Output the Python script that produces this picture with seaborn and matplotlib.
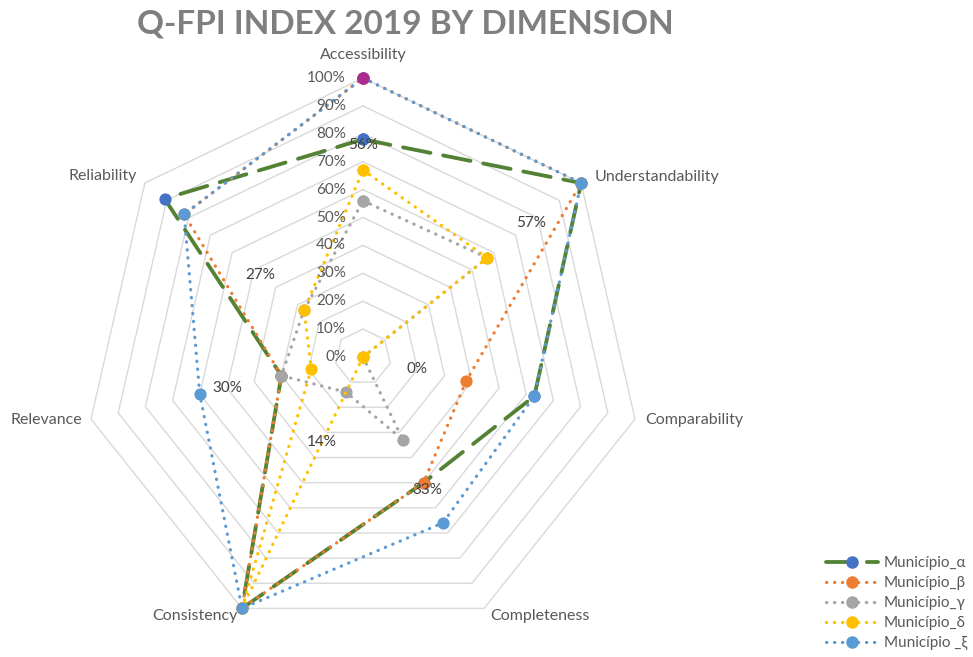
import numpy as np
import pandas as pd
import matplotlib
matplotlib.use("Agg")
import matplotlib.pyplot as plt
from matplotlib.lines import Line2D
import seaborn as sns

# ---------------- data ----------------
categories = ['Accessibility', 'Understandability', 'Comparability', 'Completeness',
              'Consistency', 'Relevance', 'Reliability']
series_names = ['Município_α', 'Município_β', 'Município_γ', 'Município_δ', 'Município _ξ']
alpha_vals = [0.78, 1.00, 0.63, 0.50, 1.00, 0.30, 0.91]
beta_vals = [1.00, 1.00, 0.38, 0.50, 1.00, 0.30, 0.82]
gamma_vals = [0.56, 0.57, 0.00, 0.33, 0.14, 0.30, 0.27]
delta_vals = [0.67, 0.57, 0.00, 0.00, 1.00, 0.19, 0.27]
xi_vals = [1.00, 1.00, 0.63, 0.66, 1.00, 0.60, 0.82]
tick_values = [0.0, 0.1, 0.2, 0.3, 0.4, 0.5, 0.6, 0.7, 0.8, 0.9, 1.0]
title = 'Q-FPI INDEX 2019 BY DIMENSION'

all_vals = [alpha_vals, beta_vals, gamma_vals, delta_vals, xi_vals]

# ---------------- style ----------------
sns.set_theme(style="white")
plt.rcParams['font.family'] = ['Lato', 'DejaVu Sans']

line_colors = ['#548235', '#ED7D31', '#A5A5A5', '#FFC000', '#5B9BD5']
marker_colors = ['#4472C4', '#ED7D31', '#A5A5A5', '#FFC000', '#5B9BD5']
dotted = (0, (0.1, 2.4))
dashed = (0, (7.3, 3.4))
line_styles = [dashed, dotted, dotted, dotted, dotted]
line_widths = [2.75, 2.3, 2.3, 2.3, 2.3]
text_color = '#595959'
grid_color = '#D9D9D9'

fig = plt.figure(figsize=(9.73, 6.57), dpi=100)
W, H = 973, 657
cx, cy, R = 363, 357, 279
ax = fig.add_axes([(cx - R) / W, (H - cy - R) / H, 2 * R / W, 2 * R / H], projection='polar')
ax.set_theta_zero_location('N')
ax.set_theta_direction(-1)
ax.set_ylim(0, 1)
ax.grid(False)
ax.set_xticks([])
ax.set_yticks([])
ax.spines['polar'].set_visible(False)
ax.set_facecolor('none')

n = len(categories)
theta = np.linspace(0, 2 * np.pi, n, endpoint=False)
theta_closed = np.append(theta, 2 * np.pi)

# heptagon grid rings
for v in tick_values[1:]:
    ax.plot(theta_closed, [v] * (n + 1), color=grid_color, lw=1.0, zorder=0.5)

# series
for name, vals, lc, mc, ls, lw in zip(series_names, all_vals, line_colors, marker_colors,
                                      line_styles, line_widths):
    df = pd.DataFrame({'theta': theta_closed, 'value': vals + vals[:1]})
    sns.lineplot(data=df, x='theta', y='value', ax=ax, sort=False, estimator=None,
                 color=lc, linestyle=ls, lw=lw, dash_capstyle='round',
                 marker='o', markersize=8, markerfacecolor=mc, markeredgecolor=mc,
                 markeredgewidth=0.8, zorder=3)

# highlighted point (Município_β, Accessibility)
ax.plot([theta[0]], [beta_vals[0]], 'o', ms=8, color='#AE2A8E', zorder=5)

for ln in ax.lines:
    ln.set_clip_on(False)

# radial tick labels
for v in tick_values:
    ax.annotate(f"{int(round(v * 100))}%", xy=(0, v), xytext=(-17, 0), textcoords='offset pixels',
                ha='right', va='center', fontsize=11, color=text_color, zorder=6)

# data labels (Município_γ)
for t, v in zip(theta, gamma_vals):
    ax.annotate(f"{int(round(v * 100))}%", xy=(t, v + 0.2), ha='center', va='center',
                fontsize=11, color='#404040', zorder=6)

# category labels
cat_offsets = [(0, 23, 'center'), (13, 6, 'left'), (10, -1, 'left'), (6, -8, 'left'),
               (-4, -8, 'right'), (-9, -1, 'right'), (-8, 7, 'right')]
for t, lab, (dx, dy, ha) in zip(theta, categories, cat_offsets):
    ax.annotate(lab, xy=(t, 1.0), xytext=(dx, dy), textcoords='offset pixels',
                ha=ha, va='center', fontsize=11.5, color=text_color)

fig.text(405 / W, 1 - 24 / H, title, ha='center', va='center', fontsize=24,
         fontweight='bold', color='#7F7F7F')

handles = []
for name, lc, mc, ls, lw in zip(series_names, line_colors, marker_colors, line_styles, line_widths):
    handles.append(Line2D([], [], color=lc, linestyle=ls, lw=lw, dash_capstyle='round',
                          marker='o', markersize=8, markerfacecolor=mc, markeredgecolor=mc))
leg = fig.legend(handles=handles, labels=series_names, loc='upper left',
                 bbox_to_anchor=(826 / W, 1 - 556 / H), frameon=False, fontsize=11,
                 handlelength=3.4, handletextpad=0.4, labelspacing=0.4,
                 borderpad=0, borderaxespad=0)
for t in leg.get_texts():
    t.set_color(text_color)

fig.savefig('out.png', dpi=100)
